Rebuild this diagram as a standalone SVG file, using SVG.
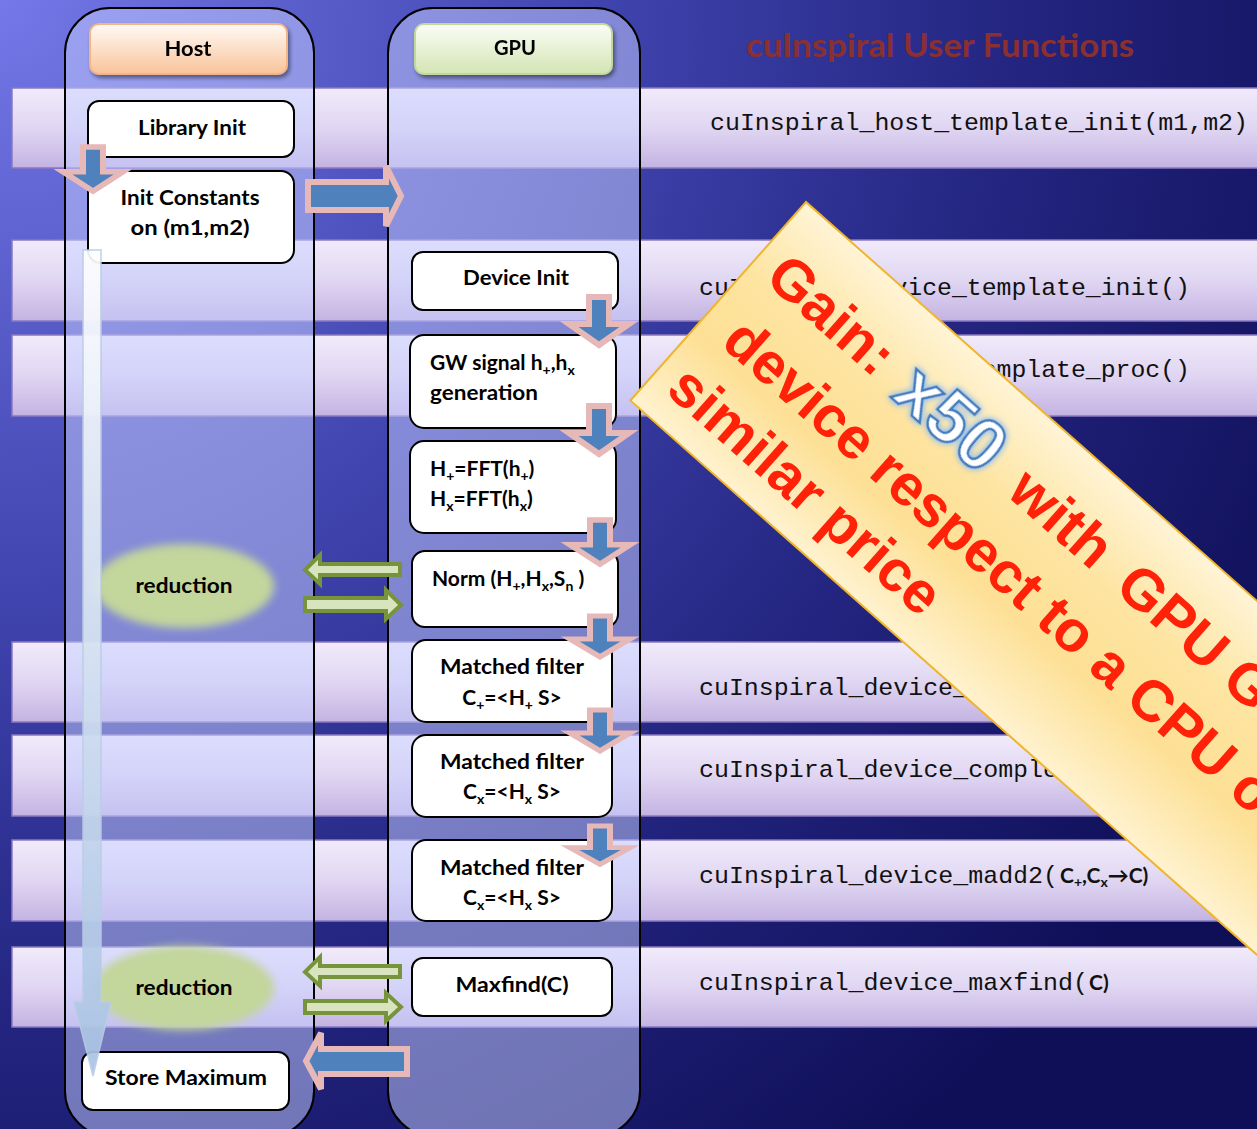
<svg xmlns="http://www.w3.org/2000/svg" width="1257" height="1129" viewBox="0 0 1257 1129">
<defs>
  <radialGradient id="bg" gradientUnits="userSpaceOnUse" cx="0" cy="0" r="1450">
    <stop offset="0" stop-color="#7478e8"/>
    <stop offset="0.42" stop-color="#3f43ad"/>
    <stop offset="0.7" stop-color="#232580"/>
    <stop offset="1" stop-color="#0f0f58"/>
  </radialGradient>
  <linearGradient id="band" x1="0" y1="0" x2="0" y2="1">
    <stop offset="0" stop-color="#f1ebfb"/>
    <stop offset="0.5" stop-color="#e0d6f2"/>
    <stop offset="1" stop-color="#c4b3e2"/>
  </linearGradient>
  <linearGradient id="hostHdr" x1="0" y1="0" x2="0" y2="1">
    <stop offset="0" stop-color="#fffaf6"/>
    <stop offset="1" stop-color="#f9c399"/>
  </linearGradient>
  <linearGradient id="gpuHdr" x1="0" y1="0" x2="0" y2="1">
    <stop offset="0" stop-color="#fbfdf7"/>
    <stop offset="1" stop-color="#d3e5b3"/>
  </linearGradient>
  <linearGradient id="vArrow" x1="0" y1="0" x2="0" y2="1">
    <stop offset="0" stop-color="#ffffff"/>
    <stop offset="1" stop-color="#a9c3e3"/>
  </linearGradient>
  <linearGradient id="banner" x1="0" y1="0" x2="0" y2="1">
    <stop offset="0" stop-color="#fff4d6"/>
    <stop offset="0.35" stop-color="#fde4a0"/>
    <stop offset="0.65" stop-color="#fde095"/>
    <stop offset="1" stop-color="#fff2cf"/>
  </linearGradient>
  <filter id="blur" x="-20%" y="-30%" width="140%" height="160%">
    <feGaussianBlur stdDeviation="4"/>
  </filter>
  <filter id="shadow" x="-10%" y="-10%" width="130%" height="140%">
    <feGaussianBlur in="SourceAlpha" stdDeviation="2"/>
    <feOffset dx="2" dy="3" result="o"/>
    <feComponentTransfer><feFuncA type="linear" slope="0.45"/></feComponentTransfer>
    <feMerge><feMergeNode/><feMergeNode in="SourceGraphic"/></feMerge>
  </filter>
  <filter id="glow" x="-30%" y="-30%" width="160%" height="160%">
    <feGaussianBlur in="SourceAlpha" stdDeviation="3" result="b"/>
    <feFlood flood-color="#9cc3ee"/>
    <feComposite in2="b" operator="in"/>
    <feMerge><feMergeNode/><feMergeNode/><feMergeNode in="SourceGraphic"/></feMerge>
  </filter>
  <path id="downArrow" d="M-10,0 H10 V27 H30 L0,48 L-30,27 H-10 Z"/>
  <style>
    .band { fill: url(#band); stroke: #8a78bf; stroke-width: 1.5; }
    .lane { fill: rgba(200,208,255,0.5); stroke: #000; stroke-width: 2; }
    .box { fill: #fff; stroke: #000; stroke-width: 2; }
    .lbl { font-family: Lato, "Open Sans", "Liberation Sans", sans-serif; font-weight: 700; font-size: 21px; fill: #000; }
    .mid { text-anchor: middle; }
    .sub { font-size: 14px; }
    .mono { font-family: "Liberation Mono", "DejaVu Sans Mono", monospace; font-size: 24px; fill: #111; }
    .bold { font-family: Lato, "Open Sans", "Liberation Sans", sans-serif; font-weight: 700; font-size: 21px; fill: #111; }
    .blk { fill: #4f81bd; stroke: #e6b8b7; stroke-width: 6; stroke-linejoin: miter; }
    .grn { fill: #d7e4bd; stroke: #77933c; stroke-width: 4; }
    .red { font-family: "Liberation Sans", Arial, sans-serif; font-weight: 700; font-size: 58px; fill: #ff2108; }
  </style>
</defs>

<rect width="1257" height="1129" fill="url(#bg)"/>

<g id="bands">
  <rect class="band" x="12" y="88" width="1260" height="80"/>
  <rect class="band" x="12" y="240" width="1260" height="81"/>
  <rect class="band" x="12" y="335" width="1260" height="81"/>
  <rect class="band" x="12" y="642" width="1260" height="80"/>
  <rect class="band" x="12" y="735" width="1260" height="81"/>
  <rect class="band" x="12" y="840" width="1260" height="81"/>
  <rect class="band" x="12" y="947" width="1260" height="80"/>
</g>

<g id="lanes">
  <rect id="lane-host" class="lane" x="65" y="8" width="249" height="1128" rx="45"/>
  <rect id="lane-gpu" class="lane" x="388" y="8" width="252" height="1128" rx="45"/>
</g>

<text id="title" x="746" y="57" font-family="Lato, 'Open Sans', sans-serif" font-weight="700" font-size="32" fill="#8a3030" textLength="388" lengthAdjust="spacingAndGlyphs">cuInspiral User Functions</text>

<g id="functions">
  <text class="mono" x="710" y="130" textLength="538" lengthAdjust="spacingAndGlyphs">cuInspiral_host_template_init(m1,m2)</text>
  <text class="mono" x="699" y="295" textLength="491" lengthAdjust="spacingAndGlyphs">cuInspiral_device_template_init()</text>
  <text class="mono" x="699" y="377" textLength="491" lengthAdjust="spacingAndGlyphs">cuInspiral_device_template_proc()</text>
  <text class="mono" x="699" y="695" textLength="269" lengthAdjust="spacingAndGlyphs">cuInspiral_device_</text>
  <text class="mono" x="699" y="777" textLength="359" lengthAdjust="spacingAndGlyphs">cuInspiral_device_comple</text>
  <text x="699" y="883"><tspan class="mono" textLength="359" lengthAdjust="spacingAndGlyphs">cuInspiral_device_madd2(</tspan></text>
  <text class="bold" x="1060" y="883">C<tspan class="sub" dy="4">+</tspan><tspan dy="-4">,C</tspan><tspan class="sub" dy="4">x</tspan><tspan dy="-4">→C)</tspan></text>
  <text class="mono" x="699" y="990" textLength="389" lengthAdjust="spacingAndGlyphs">cuInspiral_device_maxfind(</text>
  <text class="bold" x="1089" y="990">C)</text>
</g>

<g id="host-header" filter="url(#shadow)">
  <rect x="90" y="24" width="197" height="50" rx="9" fill="url(#hostHdr)" stroke="#f3b487" stroke-width="2"/>
  <text class="lbl mid" x="188" y="56" textLength="47" lengthAdjust="spacingAndGlyphs">Host</text>
</g>
<g id="gpu-header" filter="url(#shadow)">
  <rect x="415" y="24" width="197" height="50" rx="9" fill="url(#gpuHdr)" stroke="#c3d89d" stroke-width="2"/>
  <text class="lbl mid" x="515" y="55" textLength="42" lengthAdjust="spacingAndGlyphs">GPU</text>
</g>

<g id="library-init">
  <rect class="box" x="88" y="101" width="206" height="56" rx="11"/>
  <text class="lbl mid" x="192" y="135" textLength="108" lengthAdjust="spacingAndGlyphs">Library Init</text>
</g>
<g id="init-constants">
  <rect class="box" x="88" y="171" width="206" height="92" rx="13"/>
  <text class="lbl mid" x="190" y="205" textLength="139" lengthAdjust="spacingAndGlyphs">Init Constants</text>
  <text class="lbl mid" x="190" y="235" textLength="119" lengthAdjust="spacingAndGlyphs">on (m1,m2)</text>
</g>
<g id="store-maximum">
  <rect class="box" x="82" y="1052" width="207" height="58" rx="11"/>
  <text class="lbl mid" x="186" y="1085" textLength="162" lengthAdjust="spacingAndGlyphs">Store Maximum</text>
</g>

<g id="device-init">
  <rect class="box" x="412" y="252" width="206" height="58" rx="11"/>
  <text class="lbl mid" x="516" y="285" textLength="106" lengthAdjust="spacingAndGlyphs">Device Init</text>
</g>
<g id="gw-signal">
  <rect class="box" x="410" y="335" width="206" height="93" rx="14"/>
  <text class="lbl" x="430" y="370">GW signal h<tspan class="sub" dy="5">+</tspan><tspan dy="-5">,h</tspan><tspan class="sub" dy="5">x</tspan></text>
  <text class="lbl" x="430" y="400" textLength="108" lengthAdjust="spacingAndGlyphs">generation</text>
</g>
<g id="fft">
  <rect class="box" x="410" y="441" width="206" height="92" rx="14"/>
  <text class="lbl" x="430" y="476">H<tspan class="sub" dy="5">+</tspan><tspan dy="-5">=FFT(h</tspan><tspan class="sub" dy="5">+</tspan><tspan dy="-5">)</tspan></text>
  <text class="lbl" x="430" y="506">H<tspan class="sub" dy="5">x</tspan><tspan dy="-5">=FFT(h</tspan><tspan class="sub" dy="5">x</tspan><tspan dy="-5">)</tspan></text>
</g>
<g id="norm">
  <rect class="box" x="412" y="551" width="206" height="76" rx="13"/>
  <text class="lbl" x="432" y="586">Norm (H<tspan class="sub" dy="5">+</tspan><tspan dy="-5">,H</tspan><tspan class="sub" dy="5">x</tspan><tspan dy="-5">,S</tspan><tspan class="sub" dy="5">n</tspan><tspan dy="-5"> )</tspan></text>
</g>
<g id="matched-filter-plus">
  <rect class="box" x="412" y="640" width="200" height="82" rx="14"/>
  <text class="lbl mid" x="512" y="674" textLength="144" lengthAdjust="spacingAndGlyphs">Matched filter</text>
  <text class="lbl mid" x="512" y="705">C<tspan class="sub" dy="5">+</tspan><tspan dy="-5">=&lt;H</tspan><tspan class="sub" dy="5">+</tspan><tspan dy="-5"> S&gt;</tspan></text>
</g>
<g id="matched-filter-x">
  <rect class="box" x="412" y="735" width="200" height="82" rx="14"/>
  <text class="lbl mid" x="512" y="769" textLength="144" lengthAdjust="spacingAndGlyphs">Matched filter</text>
  <text class="lbl mid" x="512" y="799">C<tspan class="sub" dy="5">x</tspan><tspan dy="-5">=&lt;H</tspan><tspan class="sub" dy="5">x</tspan><tspan dy="-5"> S&gt;</tspan></text>
</g>
<g id="matched-filter-x2">
  <rect class="box" x="412" y="840" width="200" height="81" rx="14"/>
  <text class="lbl mid" x="512" y="875" textLength="144" lengthAdjust="spacingAndGlyphs">Matched filter</text>
  <text class="lbl mid" x="512" y="905">C<tspan class="sub" dy="5">x</tspan><tspan dy="-5">=&lt;H</tspan><tspan class="sub" dy="5">x</tspan><tspan dy="-5"> S&gt;</tspan></text>
</g>
<g id="maxfind">
  <rect class="box" x="412" y="958" width="200" height="58" rx="11"/>
  <text class="lbl mid" x="512" y="992" textLength="113" lengthAdjust="spacingAndGlyphs">Maxfind(C)</text>
</g>

<g id="reduction-1">
  <ellipse cx="184" cy="586" rx="90" ry="42" fill="#c3d69b" filter="url(#blur)"/>
  <text class="lbl mid" x="184" y="593" textLength="97" lengthAdjust="spacingAndGlyphs">reduction</text>
</g>
<g id="reduction-2">
  <ellipse cx="184" cy="988" rx="90" ry="42" fill="#c3d69b" filter="url(#blur)"/>
  <text class="lbl mid" x="184" y="995" textLength="97" lengthAdjust="spacingAndGlyphs">reduction</text>
</g>

<g id="connectors">
  <path d="M83,250 H101 V1002 H111 L93,1076 L74,1002 H83 Z" fill="url(#vArrow)" stroke="#b9cde5" stroke-width="1.5" opacity="0.92"/>
  <use href="#downArrow" class="blk" transform="translate(93,147) scale(1,0.92)"/>
  <use href="#downArrow" class="blk" transform="translate(599,297)"/>
  <use href="#downArrow" class="blk" transform="translate(599,406)"/>
  <use href="#downArrow" class="blk" transform="translate(600,520) scale(1,0.92)"/>
  <use href="#downArrow" class="blk" transform="translate(600,616) scale(1,0.85)"/>
  <use href="#downArrow" class="blk" transform="translate(600,710) scale(1,0.85)"/>
  <use href="#downArrow" class="blk" transform="translate(600,826) scale(1,0.8)"/>
  <path class="blk" d="M308,182 H386 V166 L401,196 L386,226 V210 H308 Z"/>
  <path class="blk" d="M407,1049 H321 V1033 L306,1061 L321,1089 V1074 H407 Z"/>
  <path class="grn" d="M400,564 H320 V555 L305,570 L320,584 V575 H400 Z"/>
  <path class="grn" d="M305,598 H386 V590 L401,605 L386,619 V611 H305 Z"/>
  <path class="grn" d="M400,966 H320 V957 L305,972 L320,986 V977 H400 Z"/>
  <path class="grn" d="M305,1001 H386 V993 L401,1007 L386,1021 V1013 H305 Z"/>
</g>

<g id="gain-banner" transform="translate(806,202) rotate(41.5)">
  <rect x="0" y="0" width="900" height="265" fill="url(#banner)" stroke="#efb52e" stroke-width="2"/>
  <text class="red" x="20" y="87">Gain:</text>
  <text x="192" y="90" font-family="'Liberation Sans', Arial, sans-serif" font-weight="700" font-size="72" fill="#ffffff" stroke="#3f7cc0" stroke-width="2.5" filter="url(#glow)">x50</text>
  <text class="red" x="343" y="87">with</text>
  <text class="red" x="487" y="87">GPU</text>
  <text class="red" x="629" y="87">G</text>
  <text class="red" x="30" y="164">device respect to a CPU o</text>
  <text class="red" x="20" y="236">similar price</text>
</g>
</svg>
